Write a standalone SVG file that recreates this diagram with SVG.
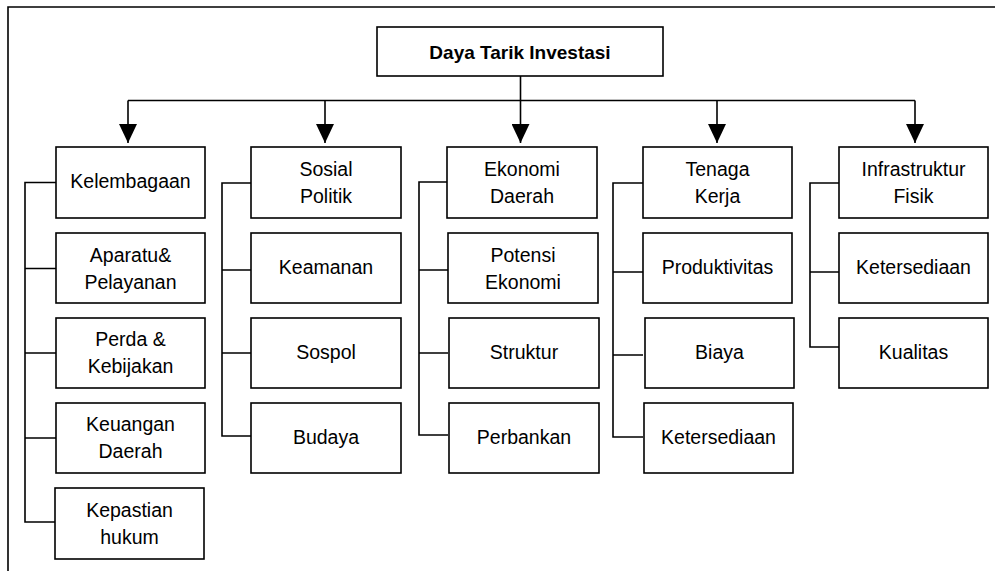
<svg xmlns="http://www.w3.org/2000/svg" width="995" height="571" viewBox="0 0 995 571">
<defs>
<style>
.box{fill:#fff;stroke:#000;stroke-width:1.6}
.ln{fill:none;stroke:#000;stroke-width:1.6}
text{font-family:"Liberation Sans",Arial,sans-serif;font-size:19.5px;fill:#000;text-anchor:middle}
.b{font-weight:bold}
</style>
<marker id="arr" markerUnits="userSpaceOnUse" markerWidth="18" markerHeight="19" refX="8.5" refY="18" orient="0" viewBox="0 0 17 18">
<path d="M0,0 L17,0 L8.5,18 Z" fill="#000"/>
</marker>
</defs>
<rect width="995" height="571" fill="#fff"/>
<g id="frame"><path class="ln" d="M8,571 V7 H995"/></g>
<g id="connectors">
<path class="ln" d="M520.5,76 V100.5"/>
<path class="ln" d="M128,100.5 H915"/>
<path class="ln" d="M128,100.5 V143" marker-end="url(#arr)"/>
<path class="ln" d="M325,100.5 V143" marker-end="url(#arr)"/>
<path class="ln" d="M520.5,100.5 V143" marker-end="url(#arr)"/>
<path class="ln" d="M717,100.5 V143" marker-end="url(#arr)"/>
<path class="ln" d="M915,100.5 V143" marker-end="url(#arr)"/>
<path class="ln" d="M56,182.5 H25 V522 H56 M25,268.5 H56 M25,353 H56 M25,438 H56"/>
<path class="ln" d="M251,183 H222 V436 H251 M222,270 H251 M222,353 H251"/>
<path class="ln" d="M448,182 H419 V435 H448 M419,270 H448 M419,353 H448"/>
<path class="ln" d="M643,183 H613 V437 H643 M613,272 H643 M613,355 H643"/>
<path class="ln" d="M839,183 H810 V347 H839 M810,272 H839"/>
</g>
<g id="root"><rect class="box" x="377" y="27" width="286" height="49"/><text class="b" x="520" y="59" style="font-size:19px">Daya Tarik Investasi</text></g>

<g id="kelembagaan"><rect class="box" x="56" y="147" width="149" height="71"/><text x="130.5" y="188">Kelembagaan</text></g>
<g id="aparatu"><rect class="box" x="56" y="233" width="149" height="70"/><text x="130.5" y="262">Aparatu&amp;</text><text x="130.5" y="289">Pelayanan</text></g>
<g id="perda"><rect class="box" x="56" y="318" width="149" height="70"/><text x="130.5" y="346">Perda &amp;</text><text x="130.5" y="373">Kebijakan</text></g>
<g id="keuangan"><rect class="box" x="56" y="403" width="149" height="70"/><text x="130.5" y="431">Keuangan</text><text x="130.5" y="458">Daerah</text></g>
<g id="kepastian"><rect class="box" x="55" y="488" width="149" height="71"/><text x="129.5" y="517">Kepastian</text><text x="129.5" y="544">hukum</text></g>

<g id="sosial"><rect class="box" x="251" y="147" width="150" height="71"/><text x="326" y="176">Sosial</text><text x="326" y="203">Politik</text></g>
<g id="keamanan"><rect class="box" x="251" y="233" width="150" height="70"/><text x="326" y="274">Keamanan</text></g>
<g id="sospol"><rect class="box" x="251" y="318" width="150" height="70"/><text x="326" y="359">Sospol</text></g>
<g id="budaya"><rect class="box" x="251" y="403" width="150" height="70"/><text x="326" y="444">Budaya</text></g>

<g id="ekonomi"><rect class="box" x="447" y="147" width="150" height="71"/><text x="522" y="176">Ekonomi</text><text x="522" y="203">Daerah</text></g>
<g id="potensi"><rect class="box" x="448" y="233" width="150" height="70"/><text x="523" y="262">Potensi</text><text x="523" y="289">Ekonomi</text></g>
<g id="struktur"><rect class="box" x="449" y="318" width="150" height="70"/><text x="524" y="359">Struktur</text></g>
<g id="perbankan"><rect class="box" x="449" y="403" width="150" height="70"/><text x="524" y="444">Perbankan</text></g>

<g id="tenaga"><rect class="box" x="643" y="147" width="149" height="71"/><text x="717.5" y="176">Tenaga</text><text x="717.5" y="203">Kerja</text></g>
<g id="produktivitas"><rect class="box" x="643" y="233" width="149" height="70"/><text x="717.5" y="274">Produktivitas</text></g>
<g id="biaya"><rect class="box" x="645" y="318" width="149" height="70"/><text x="719.5" y="359">Biaya</text></g>
<g id="ketersediaan1"><rect class="box" x="644" y="403" width="149" height="70"/><text x="718.5" y="444">Ketersediaan</text></g>

<g id="infrastruktur"><rect class="box" x="839" y="147" width="149" height="71"/><text x="913.5" y="176">Infrastruktur</text><text x="913.5" y="203">Fisik</text></g>
<g id="ketersediaan2"><rect class="box" x="839" y="233" width="149" height="70"/><text x="913.5" y="274">Ketersediaan</text></g>
<g id="kualitas"><rect class="box" x="839" y="318" width="149" height="70"/><text x="913.5" y="359">Kualitas</text></g>
</svg>
